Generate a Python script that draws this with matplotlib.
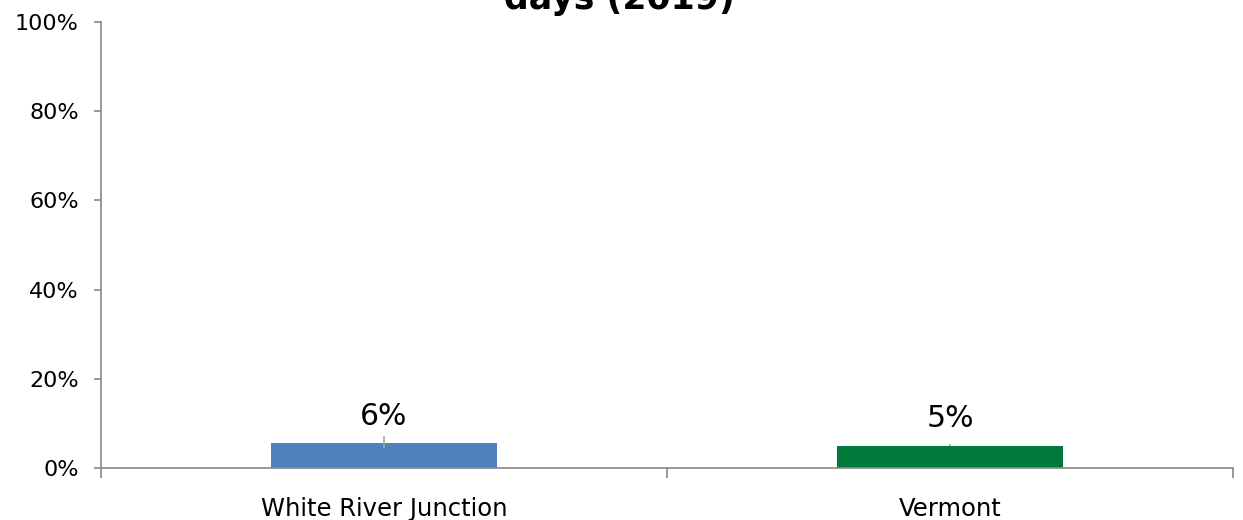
import matplotlib.pyplot as plt
from matplotlib.ticker import FuncFormatter

plt.rcParams["font.family"] = ["DejaVu Sans"]

# Data
categories = ["White River Junction", "Vermont"]
values = [5.5, 4.9]
labels = ["6%", "5%"]
err_low = [1.0, 0.0]
err_high = [1.7, 0.4]
colors = ["#4f81bd", "#00793a"]
yticks = [0, 20, 40, 60, 80, 100]

fig = plt.figure(figsize=(12.43, 5.2), dpi=100)
ax = fig.add_axes([101 / 1243, 1 - 468 / 520, (1233 - 101) / 1243, (468 - 22) / 520])

x = range(len(categories))
ax.bar(x, values, width=0.4, color=colors, zorder=2)
ax.errorbar(x, values, yerr=[err_low, err_high], fmt="none",
            ecolor="#a6a6a6", elinewidth=1.2, capsize=0, zorder=3)

for xi, v, lab in zip(x, values, labels):
    ax.text(xi, v + 4.2, lab, ha="center", va="baseline", fontsize=21.5)

ax.set_xlim(-0.5, 1.5)
ax.set_ylim(0, 100)
ax.set_yticks(yticks)
ax.yaxis.set_major_formatter(FuncFormatter(lambda v, p: f"{v:.0f}%"))
ax.set_xticks(list(x))
ax.set_xticklabels(categories, fontsize=17.5)
ax.set_xticks([-0.5, 0.5, 1.5], minor=True)
ax.tick_params(axis="x", which="major", length=0, pad=21)
ax.tick_params(axis="x", which="minor", length=7, color="#888888", width=1.2)
ax.tick_params(axis="y", labelsize=16, length=5, color="#888888", width=1.2, pad=11)

for s in ["top", "right"]:
    ax.spines[s].set_visible(False)
for s in ["left", "bottom"]:
    ax.spines[s].set_color("#888888")
    ax.spines[s].set_linewidth(1.2)

# title is cropped at the top edge in the reference
fig.text(619 / 1243, 1 - 9 / 520, "days (2019)", ha="center", va="baseline",
         fontsize=25, fontweight="bold")

fig.savefig("out.png", dpi=100)
